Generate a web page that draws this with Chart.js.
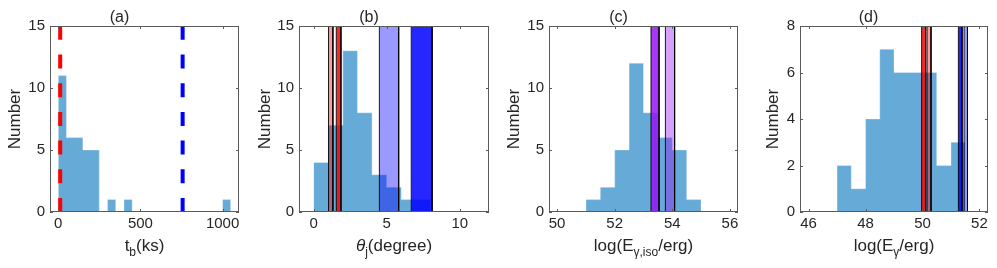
<!DOCTYPE html>
<html><head><meta charset="utf-8">
<script src="https://cdn.jsdelivr.net/npm/chart.js@4.4.1/dist/chart.umd.min.js"></script>
<style>
html,body{margin:0;padding:0;background:#fff;width:997px;height:268px;overflow:hidden}
canvas{position:absolute;top:0}
</style></head><body>
<canvas id="ca" width="249" height="268" style="left:0px"></canvas>
<canvas id="cb" width="250" height="268" style="left:249px"></canvas>
<canvas id="cc" width="250" height="268" style="left:499px"></canvas>
<canvas id="cd" width="248" height="268" style="left:749px"></canvas>
<script>
// ---------------- data ----------------
// (a) break time histogram, bins of 50 ks (edges listed, counts per bin)
const aTitle = '(a)';
const aBinEdges = [0,50,100,150,200,250,300,350,400,450,500,550,600,650,700,750,800,850,900,950,1000,1050];
const aCounts   = [11,6,6,5,5,0,1,0,1,0,0,0,0,0,0,0,0,0,0,0,1];
const aXTicks = [0,500,1000];
const aYTicks = [0,5,10,15];
const aRedLine = 12;
const aBlueLine = 757;
const aXLabel = [['t',''],['b','sub'],['(ks)','']];

// (b) jet opening angle histogram, bins of 1 degree
const bTitle = '(b)';
const bBinEdges = [0,1,2,3,4,5,6,7,8];
const bCounts   = [4,7,13,8,3,2,1,1];
const bXTicks = [0,5,10];
const bYTicks = [0,5,10,15];
const bPinkBand = [1.02,1.32];
const bRedBand = [1.55,1.87];
const bLightBlueBand = [4.50,5.82];
const bBlueBand = [6.68,8.11];
const bXLabel = [['θ','italic'],['j','sub'],['(degree)','']];

// (c) isotropic energy histogram, bins of 0.5 dex
const cTitle = '(c)';
const cBinEdges = [51,51.5,52,52.5,53,53.5,54,54.5,55];
const cCounts   = [1,2,5,12,8,6,5,1];
const cXTicks = [50,52,54,56];
const cYTicks = [0,5,10,15];
const cPurpleBand = [53.26,53.54];
const cLightPurpleBand = [53.76,54.08];
const cXLabel = [['log(E',''],['γ,iso','sub'],['/erg)','']];

// (d) collimation-corrected energy histogram, bins of 0.5 dex
const dTitle = '(d)';
const dBinEdges = [47,47.5,48,48.5,49,49.5,50,50.5,51,51.5];
const dCounts   = [2,1,4,7,6,6,6,2,3];
const dXTicks = [46,48,50,52];
const dYTicks = [0,2,4,6,8];
const dRedBand = [49.97,50.11];
const dPinkBand = [50.16,50.30];
const dBlueBand = [51.26,51.39];
const dLightBlueBand = [51.46,51.58];
const dXLabel = [['log(E',''],['γ','sub'],['/erg)','']];

const yLabel = 'Number';

// ---------------- styles ----------------
const FONT = '"Liberation Sans", Arial, Helvetica, sans-serif';
const TEXT = '#262626';
const AXIS = '#5a5a5a';
const HIST = 'rgba(0,114,189,0.6)';
const HIST_EDGE = 'rgba(255,255,255,0.3)';
const EDGE = 'rgba(0,0,0,0.9)';
const TICK_SIZE = 15, LABEL_SIZE = 17, SUB_SIZE = 12, SUB_DROP = 5, TITLE_SIZE = 16;

Chart.defaults.font.family = FONT;
Chart.defaults.color = TEXT;

const boxPlugin = {
  id: 'box',
  afterDatasetsDraw(chart) {
    const {ctx, chartArea: a, scales: {x, y}} = chart;
    const TL = 3;
    ctx.save();
    ctx.strokeStyle = AXIS; ctx.lineWidth = 1;
    ctx.beginPath();
    x.ticks.forEach(t => {
      const px = Math.round(x.getPixelForValue(t.value)) + 0.5;
      ctx.moveTo(px, a.bottom); ctx.lineTo(px, a.bottom - TL);
      ctx.moveTo(px, a.top); ctx.lineTo(px, a.top + TL);
    });
    y.ticks.forEach(t => {
      const py = Math.round(y.getPixelForValue(t.value)) + 0.5;
      ctx.moveTo(a.left, py); ctx.lineTo(a.left + TL, py);
      ctx.moveTo(a.right, py); ctx.lineTo(a.right - TL, py);
    });
    ctx.stroke();
    ctx.strokeRect(Math.round(a.left) + 0.5, Math.round(a.top) + 0.5, Math.round(a.right - a.left) - 1, Math.round(a.bottom - a.top) - 1);
    ctx.restore();
  }
};

const richXTitle = {
  id: 'richXTitle',
  afterDraw(chart, args, opts) {
    const parts = opts.parts; if (!parts) return;
    const ctx = chart.ctx, a = chart.chartArea;
    ctx.save();
    ctx.fillStyle = TEXT; ctx.textBaseline = 'alphabetic'; ctx.textAlign = 'left';
    const fonts = parts.map(p => (p[1] === 'italic' ? 'italic ' : '') + (p[1] === 'sub' ? SUB_SIZE : LABEL_SIZE) + 'px ' + FONT);
    let total = 0;
    const widths = parts.map((p, i) => { ctx.font = fonts[i]; const w = ctx.measureText(p[0]).width; total += w; return w; });
    let x = (a.left + a.right) / 2 - total / 2;
    const base = a.bottom + opts.baseline;
    parts.forEach((p, i) => { ctx.font = fonts[i]; ctx.fillText(p[0], x, base + (p[1] === 'sub' ? SUB_DROP : 0)); x += widths[i]; });
    ctx.restore();
  }
};

// histogram outline as a stepped, filled line through the bin edges
function histDataset(edges, counts) {
  const pts = [{x: edges[0], y: 0}];
  edges.forEach((e, i) => pts.push({x: e, y: i < counts.length ? counts[i] : 0}));
  return {
    type: 'line', data: pts, stepped: 'before',
    fill: 'origin', backgroundColor: HIST, borderColor: HIST_EDGE, borderWidth: 1,
    pointRadius: 0, tension: 0, order: 10
  };
}
function bandDataset(range, yTop, color) {
  return {
    type: 'line',
    data: [{x: range[0], y: 0}, {x: range[0], y: yTop}, {x: range[1], y: yTop}, {x: range[1], y: 0}],
    fill: 'origin', backgroundColor: color, borderColor: EDGE, borderWidth: 1,
    pointRadius: 0, tension: 0, order: 1
  };
}
function vlineDataset(xv, yTop, color) {
  return {
    type: 'line',
    data: [{x: xv, y: 0}, {x: xv, y: yTop}],
    fill: false, borderColor: color, borderWidth: 4, borderDash: [14, 14.7],
    borderCapStyle: 'butt', pointRadius: 0, tension: 0, order: 0
  };
}

function makePanel(id, p) {
  const datasets = [histDataset(p.edges, p.counts)].concat(p.extra);
  new Chart(document.getElementById(id), {
    type: 'line',
    data: {datasets},
    plugins: [boxPlugin, richXTitle],
    options: {
      responsive: false, animation: false, devicePixelRatio: 1,
      layout: {padding: {left: 0, right: p.padRight, top: 0, bottom: 0}},
      plugins: {
        legend: {display: false}, tooltip: {enabled: false},
        title: {display: true, text: p.title, color: TEXT, font: {size: TITLE_SIZE, weight: 'normal', lineHeight: 1}, padding: {top: 10, bottom: 0}},
        richXTitle: {parts: p.xLabel, baseline: 38.5}
      },
      scales: {
        x: {
          type: 'linear', min: p.xMin, max: p.xMax, offset: false,
          grid: {display: false, drawTicks: false}, border: {display: false},
          ticks: {font: {size: TICK_SIZE}, color: TEXT, padding: 3, maxRotation: 0, callback: v => String(v)},
          afterBuildTicks: s => { s.ticks = p.xTicks.map(v => ({value: v})); },
          afterFit: s => { s.height = 56; }
        },
        y: {
          type: 'linear', min: 0, max: p.yMax,
          grid: {display: false, drawTicks: false}, border: {display: false},
          ticks: {font: {size: TICK_SIZE}, color: TEXT, padding: 5, callback: v => String(v)},
          afterBuildTicks: s => { s.ticks = p.yTicks.map(v => ({value: v})); },
          title: {display: true, text: yLabel, color: TEXT, font: {size: LABEL_SIZE}, padding: {top: p.yTitlePad, bottom: 0}},
          afterFit: s => { s.width = p.yAxisWidth; }
        }
      }
    }
  });
}

makePanel('ca', {
  title: aTitle, edges: aBinEdges, counts: aCounts, xTicks: aXTicks, yTicks: aYTicks,
  xMin: -50, xMax: 1100, yMax: 15, xLabel: aXLabel, padRight: 10, yAxisWidth: 50, yTitlePad: 4.8,
  extra: [vlineDataset(aRedLine, 15, '#ff0000'), vlineDataset(aBlueLine, 15, '#0000ff')]
});
makePanel('cb', {
  title: bTitle, edges: bBinEdges, counts: bCounts, xTicks: bXTicks, yTicks: bYTicks,
  xMin: -1, xMax: 12, yMax: 15, xLabel: bXLabel, padRight: 10, yAxisWidth: 50, yTitlePad: 5.8,
  extra: [
    bandDataset(bPinkBand, 15, 'rgba(255,0,0,0.4)'),
    bandDataset(bRedBand, 15, 'rgba(255,0,0,0.85)'),
    bandDataset(bLightBlueBand, 15, 'rgba(0,0,255,0.4)'),
    bandDataset(bBlueBand, 15, 'rgba(0,0,255,0.85)')
  ]
});
makePanel('cc', {
  title: cTitle, edges: cBinEdges, counts: cCounts, xTicks: cXTicks, yTicks: cYTicks,
  xMin: 49.72, xMax: 56.28, yMax: 15, xLabel: cXLabel, padRight: 11, yAxisWidth: 50, yTitlePad: 4.8,
  extra: [
    bandDataset(cPurpleBand, 15, 'rgba(150,20,245,0.85)'),
    bandDataset(cLightPurpleBand, 15, 'rgba(150,20,245,0.4)')
  ]
});
makePanel('cd', {
  title: dTitle, edges: dBinEdges, counts: dCounts, xTicks: dXTicks, yTicks: dYTicks,
  xMin: 45.7, xMax: 52.3, yMax: 8, xLabel: dXLabel, padRight: 9, yAxisWidth: 51, yTitlePad: 13.8,
  extra: [
    bandDataset(dRedBand, 8, 'rgba(255,0,0,0.85)'),
    bandDataset(dPinkBand, 8, 'rgba(255,0,0,0.4)'),
    bandDataset(dBlueBand, 8, 'rgba(0,0,255,0.85)'),
    bandDataset(dLightBlueBand, 8, 'rgba(0,0,255,0.4)')
  ]
});
</script>
</body></html>
